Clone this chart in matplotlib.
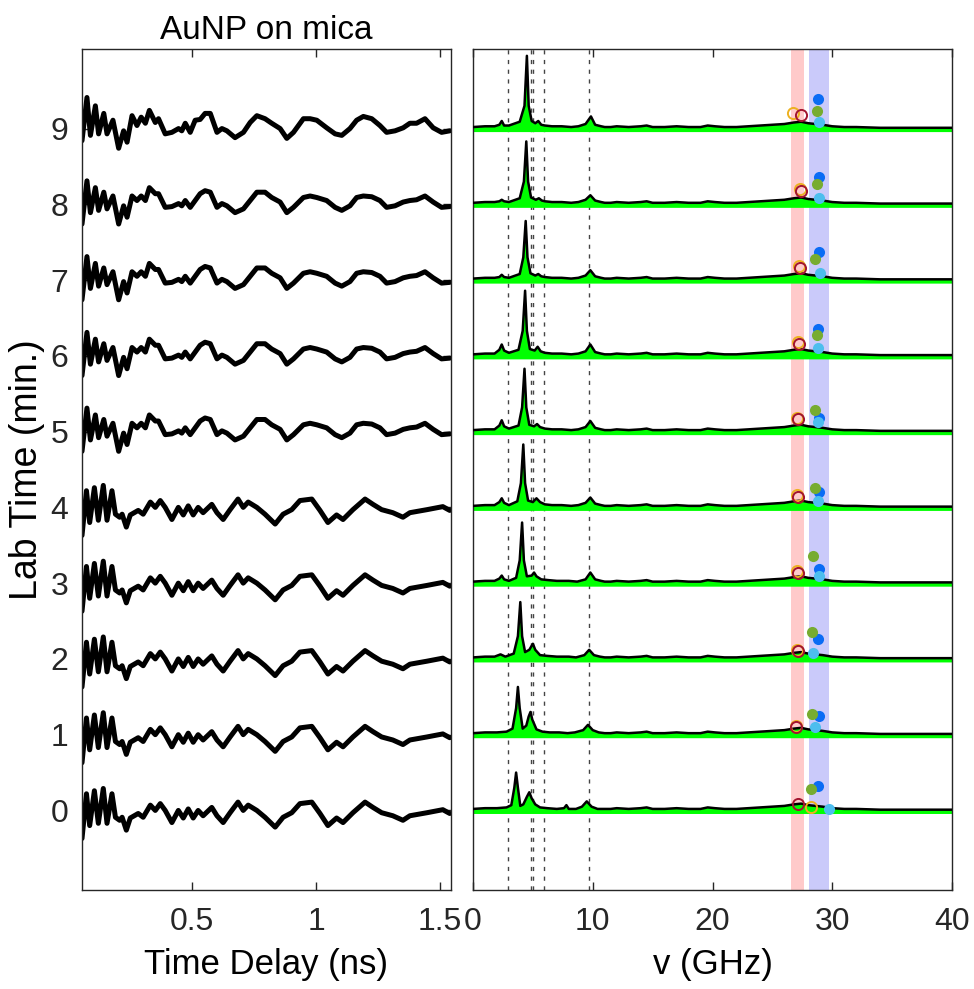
import matplotlib
matplotlib.use("Agg")
import matplotlib.pyplot as plt

plt.rcParams['font.family'] = ['Liberation Sans', 'DejaVu Sans']

# ---- time-domain traces (ns, offset from row baseline) ----
t_grid = [0.055, 0.075, 0.089, 0.109, 0.122, 0.143, 0.156, 0.180, 0.203, 0.223,
          0.237, 0.257, 0.277, 0.294, 0.311, 0.327, 0.351, 0.364, 0.391, 0.418,
          0.445, 0.458, 0.472, 0.492, 0.512, 0.532, 0.552, 0.573, 0.600, 0.620,
          0.640, 0.673, 0.707, 0.734, 0.761, 0.794, 0.821, 0.855, 0.882, 0.909,
          0.949, 0.976, 1.003, 1.043, 1.077, 1.104, 1.137, 1.164, 1.191, 1.225,
          1.258, 1.285, 1.319, 1.352, 1.379, 1.406, 1.440, 1.473, 1.507, 1.540]

trace9 = [-0.16, 0.41, -0.09, 0.30, -0.07, 0.20, -0.07, 0.11, -0.26, -0.03,
          -0.18, 0.17, 0.04, 0.15, 0.07, 0.24, 0.08, 0.13, -0.07, -0.05,
          0.00, -0.03, 0.07, -0.05, 0.11, 0.12, 0.20, 0.20, -0.05, 0.00,
          -0.03, -0.12, -0.05, 0.08, 0.17, 0.13, 0.07, 0.00, -0.13, -0.05,
          0.13, 0.13, 0.11, 0.01, -0.07, -0.09, 0.00, 0.11, 0.16, 0.13,
          0.04, -0.05, -0.03, 0.01, 0.07, 0.07, 0.13, 0.01, -0.05, -0.03]

trace8 = [-0.26, 0.31, -0.11, 0.22, -0.08, 0.16, -0.06, 0.11, -0.26, -0.02,
          -0.17, 0.11, 0.05, 0.11, 0.05, 0.22, 0.14, 0.14, -0.04, -0.03,
          0.01, -0.02, 0.05, -0.04, 0.05, 0.14, 0.18, 0.16, -0.04, 0.01,
          -0.02, -0.11, -0.06, 0.05, 0.16, 0.16, 0.09, 0.03, -0.11, -0.04,
          0.09, 0.11, 0.09, 0.05, -0.04, -0.08, -0.02, 0.09, 0.11, 0.10,
          0.05, -0.04, -0.02, 0.03, 0.05, 0.06, 0.11, 0.03, -0.04, -0.03]

t_row0 = [0.055, 0.073, 0.086, 0.105, 0.121, 0.141, 0.156, 0.176, 0.190, 0.207,
          0.217, 0.234, 0.250, 0.282, 0.302, 0.331, 0.351, 0.371, 0.391, 0.418,
          0.444, 0.464, 0.484, 0.504, 0.524, 0.544, 0.579, 0.600, 0.625, 0.653,
          0.685, 0.706, 0.726, 0.761, 0.794, 0.835, 0.867, 0.902, 0.935, 0.983,
          1.016, 1.048, 1.083, 1.109, 1.149, 1.198, 1.230, 1.265, 1.310, 1.351,
          1.379, 1.448, 1.512, 1.540]

trace0 = [-0.37, 0.22, -0.20, 0.26, -0.17, 0.29, -0.17, 0.22, -0.09, -0.13,
          -0.09, -0.26, -0.10, -0.04, -0.09, 0.07, 0.00, 0.09, 0.00, -0.16,
          0.00, -0.10, 0.02, -0.10, 0.00, -0.07, 0.04, -0.07, -0.16, -0.03,
          0.11, 0.00, 0.07, 0.00, -0.09, -0.22, -0.09, -0.03, 0.09, 0.11,
          -0.04, -0.20, -0.10, -0.16, -0.03, 0.11, 0.04, -0.03, -0.07, -0.13,
          -0.07, -0.03, 0.01, -0.04]

trace_t = [t_row0] * 5 + [t_grid] * 5
trace_v = [trace0, trace0, trace0, trace0, trace0,
           trace8, trace8, trace8, trace8, trace9]

# ---- spectra (GHz, amplitude above row baseline) ----
spec_f = [
    [0, 1, 2, 2.8, 3.2, 3.45, 3.6, 3.75, 3.95, 4.2, 4.5, 4.7, 4.9, 5.2, 5.6, 6.2, 7.0, 7.6, 7.8, 8.0, 8.6, 9.1, 9.5, 9.9, 10.4, 11],
    [0, 1, 2, 2.8, 3.3, 3.6, 3.75, 3.9, 4.15, 4.45, 4.65, 4.8, 4.95, 5.3, 5.8, 6.4, 7.2, 7.9, 8.5, 9.2, 9.6, 10.0, 10.5, 11],
    [0, 1, 1.8, 2.3, 2.7, 3.4, 3.75, 3.95, 4.1, 4.35, 4.7, 5.0, 5.2, 5.6, 6.2, 7, 8, 8.6, 9.3, 9.7, 10.1, 10.6, 11],
    [0, 1, 1.8, 2.2, 2.4, 2.6, 3.0, 3.6, 3.9, 4.1, 4.25, 4.5, 4.9, 5.1, 5.3, 5.7, 6.3, 7, 8, 8.7, 9.4, 9.8, 10.2, 10.7, 11],
    [0, 1, 1.8, 2.2, 2.4, 2.6, 3.0, 3.7, 4.0, 4.2, 4.35, 4.6, 5.0, 5.3, 5.6, 6.0, 6.6, 7.4, 8.2, 8.8, 9.4, 9.8, 10.2, 10.7, 11],
    [0, 1, 1.8, 2.2, 2.4, 2.6, 3.0, 3.8, 4.1, 4.3, 4.45, 4.7, 5.1, 5.35, 5.6, 6.0, 6.6, 7.4, 8.2, 8.8, 9.4, 9.8, 10.2, 10.7, 11],
    [0, 1, 1.8, 2.2, 2.4, 2.6, 3.0, 3.8, 4.15, 4.35, 4.5, 4.75, 5.15, 5.4, 5.65, 6.0, 6.6, 7.4, 8.2, 8.8, 9.4, 9.8, 10.2, 10.7, 11],
    [0, 1, 1.8, 2.2, 2.4, 2.6, 3.0, 3.9, 4.2, 4.4, 4.55, 4.8, 5.2, 5.45, 5.7, 6.0, 6.6, 7.4, 8.2, 8.8, 9.4, 9.8, 10.2, 10.7, 11],
    [0, 1, 1.8, 2.2, 2.4, 2.6, 3.0, 3.9, 4.25, 4.45, 4.6, 4.85, 5.25, 5.5, 5.75, 6.0, 6.6, 7.4, 8.2, 8.8, 9.4, 9.8, 10.2, 10.7, 11],
    [0, 1, 1.8, 2.2, 2.4, 2.6, 3.0, 3.9, 4.3, 4.5, 4.65, 4.9, 5.2, 5.45, 5.7, 6.0, 6.6, 7.4, 8.2, 8.8, 9.4, 9.85, 10.2, 10.7, 11],
]
spec_a = [
    [0.02, 0.03, 0.03, 0.04, 0.07, 0.30, 0.50, 0.30, 0.06, 0.08, 0.18, 0.24, 0.16, 0.08, 0.04, 0.03, 0.02, 0.03, 0.07, 0.02, 0.02, 0.05, 0.12, 0.05, 0.02, 0.02],
    [0.02, 0.03, 0.03, 0.04, 0.08, 0.35, 0.63, 0.35, 0.08, 0.12, 0.24, 0.30, 0.20, 0.07, 0.04, 0.03, 0.03, 0.02, 0.03, 0.06, 0.13, 0.06, 0.03, 0.02],
    [0.02, 0.03, 0.03, 0.06, 0.03, 0.07, 0.30, 0.75, 0.30, 0.09, 0.12, 0.20, 0.12, 0.05, 0.04, 0.03, 0.03, 0.02, 0.05, 0.12, 0.05, 0.03, 0.02],
    [0.02, 0.03, 0.03, 0.06, 0.10, 0.05, 0.03, 0.07, 0.30, 0.80, 0.30, 0.09, 0.10, 0.14, 0.09, 0.05, 0.04, 0.03, 0.03, 0.02, 0.05, 0.14, 0.05, 0.03, 0.02],
    [0.02, 0.03, 0.03, 0.07, 0.12, 0.06, 0.03, 0.08, 0.32, 0.83, 0.32, 0.09, 0.07, 0.12, 0.07, 0.04, 0.03, 0.03, 0.02, 0.03, 0.06, 0.13, 0.05, 0.03, 0.02],
    [0.02, 0.03, 0.03, 0.08, 0.15, 0.07, 0.04, 0.08, 0.32, 0.83, 0.32, 0.09, 0.07, 0.10, 0.06, 0.04, 0.03, 0.03, 0.02, 0.03, 0.06, 0.14, 0.05, 0.03, 0.02],
    [0.02, 0.03, 0.03, 0.08, 0.15, 0.07, 0.04, 0.08, 0.33, 0.86, 0.33, 0.09, 0.07, 0.12, 0.06, 0.04, 0.03, 0.03, 0.02, 0.03, 0.06, 0.15, 0.05, 0.03, 0.02],
    [0.02, 0.03, 0.03, 0.04, 0.07, 0.04, 0.03, 0.08, 0.30, 0.78, 0.30, 0.09, 0.06, 0.08, 0.05, 0.04, 0.03, 0.03, 0.02, 0.03, 0.06, 0.13, 0.05, 0.03, 0.02],
    [0.02, 0.03, 0.03, 0.04, 0.06, 0.04, 0.03, 0.08, 0.30, 0.83, 0.30, 0.09, 0.06, 0.08, 0.05, 0.04, 0.03, 0.03, 0.02, 0.03, 0.06, 0.12, 0.05, 0.03, 0.02],
    [0.02, 0.03, 0.03, 0.05, 0.10, 0.04, 0.04, 0.09, 0.30, 0.96, 0.30, 0.10, 0.07, 0.10, 0.05, 0.04, 0.03, 0.03, 0.02, 0.03, 0.06, 0.16, 0.05, 0.03, 0.02],
]
tail_f = [11.5, 12, 13, 14, 14.5, 15, 16, 17, 18, 19, 19.6, 20.2, 21, 22, 23, 24, 25,
          26, 26.8, 27.4, 28, 28.6, 29.2, 30, 31, 32, 34, 36, 38, 40]
tail_a = [0.02, 0.03, 0.02, 0.03, 0.04, 0.02, 0.02, 0.03, 0.02, 0.02, 0.04, 0.03, 0.02,
          0.02, 0.03, 0.04, 0.05, 0.06, 0.08, 0.09, 0.07, 0.06, 0.05, 0.03, 0.02, 0.02,
          0.01, 0.01, 0.01, 0.01]

dashed_f = [2.95, 4.82, 4.98, 5.92, 9.72]
red_band = (26.55, 27.6)
blue_band = (28.05, 29.7)

# mode markers, one per row (0..9)
darkred_f = [27.1, 27.0, 27.1, 27.1, 27.1, 27.1, 27.2, 27.3, 27.4, 27.4]
darkred_a = [0.08, 0.10, 0.10, 0.14, 0.14, 0.16, 0.16, 0.16, 0.18, 0.18]
yellow_f = [28.2, 26.95, 27.05, 27.05, 27.05, 27.05, 27.15, 27.25, 27.3, 26.7]
yellow_a = [0.05, 0.12, 0.12, 0.16, 0.16, 0.18, 0.18, 0.18, 0.20, 0.20]
green_f = [28.2, 28.3, 28.3, 28.4, 28.6, 28.6, 28.7, 28.6, 28.7, 28.7]
green_a = [0.28, 0.27, 0.35, 0.36, 0.26, 0.29, 0.28, 0.28, 0.27, 0.23]
blue_f = [28.8, 28.9, 28.8, 28.9, 28.9, 28.9, 28.8, 28.9, 28.9, 28.8]
blue_a = [0.32, 0.25, 0.26, 0.19, 0.20, 0.18, 0.36, 0.37, 0.36, 0.39]
lblue_f = [29.7, 28.6, 28.4, 28.9, 28.8, 28.8, 28.8, 29.0, 28.9, 28.9]
lblue_a = [0.02, 0.10, 0.08, 0.09, 0.09, 0.13, 0.11, 0.10, 0.09, 0.09]

rows = list(range(10))
axis_col = '#262626'

fig = plt.figure(figsize=(9.74, 9.89), dpi=100)
ax1 = fig.add_axes([82 / 974, 99 / 989, 369 / 974, 841 / 989])
ax2 = fig.add_axes([473 / 974, 99 / 989, 479 / 974, 841 / 989])

for r in rows:
    ax1.plot(trace_t[r], [v + r for v in trace_v[r]], color='black', lw=3.6,
             solid_joinstyle='round', solid_capstyle='round')

ax1.set_xlim(0.055, 1.545)
ax1.set_ylim(-1.05, 10.05)
ax1.set_xticks([0.5, 1, 1.5])
ax1.set_xticklabels(['0.5', '1', '1.5'])
ax1.set_yticks(rows)
ax1.set_title('AuNP on mica', fontsize=24, pad=7)
ax1.set_xlabel('Time Delay (ns)', fontsize=25, labelpad=8)
ax1.set_ylabel('Lab Time (min.)', fontsize=27, labelpad=4)

ax2.axvspan(*red_band, color='#FFCACA', lw=0, zorder=0)
ax2.axvspan(*blue_band, color='#CACAFA', lw=0, zorder=0)
for f in dashed_f:
    ax2.axvline(f, color='#444444', lw=1.0, dashes=(3, 4), zorder=1)

for r in rows:
    f = spec_f[r] + tail_f
    a = [v + r for v in spec_a[r] + tail_a]
    ax2.fill_between(f, r - 0.04, a, color='#00FF00', lw=0, zorder=2)
    ax2.plot(f, a, color='black', lw=1.8, zorder=3)

ms = 8
ax2.plot(blue_f, [a + r for a, r in zip(blue_a, rows)], 'o', color='#0A6CF5', ms=ms, mec='none', zorder=4)
ax2.plot(green_f, [a + r for a, r in zip(green_a, rows)], 'o', color='#77AC30', ms=ms, mec='none', zorder=5)
ax2.plot(lblue_f, [a + r for a, r in zip(lblue_a, rows)], 'o', color='#4DBEEE', ms=ms, mec='none', zorder=5)
ax2.plot(yellow_f, [a + r for a, r in zip(yellow_a, rows)], 'o', mfc='none', mec='#EDB120', ms=ms, mew=1.4, zorder=6)
ax2.plot(darkred_f, [a + r for a, r in zip(darkred_a, rows)], 'o', mfc='none', mec='#A2142F', ms=ms, mew=1.4, zorder=6)

ax2.set_xlim(0, 40)
ax2.set_ylim(-1.05, 10.05)
ax2.set_xticks([0, 10, 20, 30, 40])
ax2.set_yticks(rows)
ax2.set_yticklabels([])
ax2.set_xlabel('v (GHz)', fontsize=25, labelpad=8)

for ax in (ax1, ax2):
    for s in ax.spines.values():
        s.set_color(axis_col)
        s.set_linewidth(1.0)
    ax.tick_params(direction='in', top=True, right=True, length=6, width=1.0,
                   color=axis_col, labelcolor=axis_col, labelsize=23)
    ax.tick_params(axis='x', pad=12)
    ax.tick_params(axis='y', pad=10)

fig.savefig('out.png', dpi=100)
